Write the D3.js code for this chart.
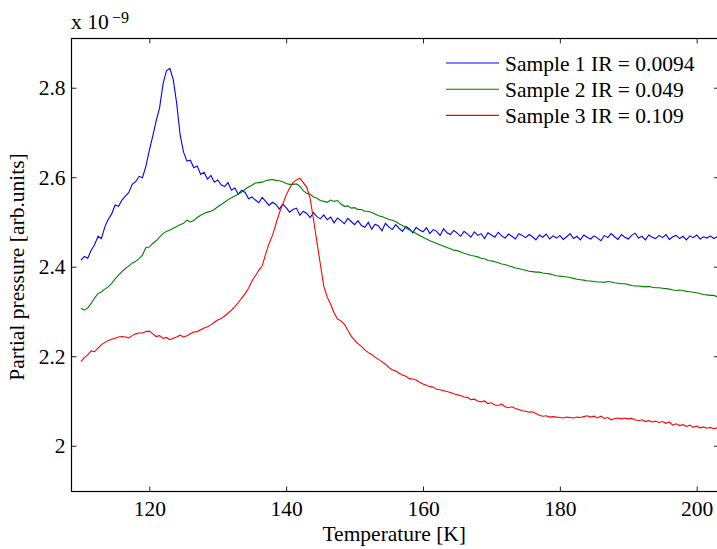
<!DOCTYPE html>
<html>
<head>
<meta charset="utf-8">
<script src="https://d3js.org/d3.v7.min.js"></script>
<style>
    body{margin:0;background:#fff;}
    svg{display:block;font-family:"Liberation Serif","Times New Roman",serif;}
</style>
</head>
<body>
<div id="canvas" class="canvas"></div>
<script>
//Data, temperature in K, pressure in units of 1e-9
var temps = [
    110,110.5,111,111.5,112,112.5,113,113.5,114,114.5,
    115,115.5,116,116.5,117,117.5,118,118.5,119,119.5,
    120,120.5,121,121.5,122,122.5,123,123.5,124,124.5,
    125,125.5,126,126.5,127,127.5,128,128.5,129,129.5,
    130,130.5,131,131.5,132,132.5,133,133.5,134,134.5,
    135,135.5,136,136.5,137,137.5,138,138.5,139,139.5,
    140,140.5,141,141.5,142,142.5,143,143.5,144,144.5,
    145,145.5,146,146.5,147,147.5,148,148.5,149,149.5,
    150,150.5,151,151.5,152,152.5,153,153.5,154,154.5,
    155,155.5,156,156.5,157,157.5,158,158.5,159,159.5,
    160,160.5,161,161.5,162,162.5,163,163.5,164,164.5,
    165,165.5,166,166.5,167,167.5,168,168.5,169,169.5,
    170,170.5,171,171.5,172,172.5,173,173.5,174,174.5,
    175,175.5,176,176.5,177,177.5,178,178.5,179,179.5,
    180,180.5,181,181.5,182,182.5,183,183.5,184,184.5,
    185,185.5,186,186.5,187,187.5,188,188.5,189,189.5,
    190,190.5,191,191.5,192,192.5,193,193.5,194,194.5,
    195,195.5,196,196.5,197,197.5,198,198.5,199,199.5,
    200,200.5,201,201.5,202,202.5,203
];

var sample1 = [
    2.415,2.423,2.419,2.437,2.449,2.468,2.463,2.489,2.506,2.518,
    2.538,2.535,2.549,2.558,2.566,2.584,2.590,2.602,2.599,2.625,
    2.660,2.692,2.726,2.755,2.808,2.838,2.843,2.818,2.765,2.695,
    2.656,2.636,2.638,2.621,2.625,2.606,2.611,2.596,2.604,2.589,
    2.594,2.583,2.579,2.588,2.571,2.576,2.562,2.571,2.566,2.552,
    2.556,2.549,2.543,2.555,2.546,2.537,2.544,2.539,2.529,2.540,
    2.532,2.522,2.528,2.531,2.515,2.524,2.519,2.510,2.521,2.512,
    2.507,2.516,2.505,2.511,2.498,2.509,2.503,2.496,2.508,2.501,
    2.494,2.503,2.492,2.488,2.499,2.484,2.495,2.491,2.480,2.497,
    2.489,2.483,2.494,2.486,2.479,2.490,2.485,2.476,2.488,2.482,
    2.478,2.487,2.474,2.483,2.479,2.470,2.485,2.476,2.472,2.481,
    2.475,2.468,2.479,2.473,2.466,2.478,2.470,2.474,2.463,2.476,
    2.471,2.466,2.477,2.469,2.464,2.473,2.468,2.462,2.474,2.470,
    2.465,2.472,2.467,2.460,2.471,2.466,2.473,2.462,2.469,2.464,
    2.470,2.461,2.467,2.474,2.463,2.468,2.460,2.471,2.466,2.462,
    2.469,2.464,2.458,2.470,2.465,2.474,2.467,2.461,2.472,2.466,
    2.462,2.470,2.475,2.464,2.468,2.460,2.471,2.466,2.463,2.470,
    2.465,2.472,2.461,2.467,2.470,2.463,2.468,2.460,2.469,2.465,
    2.471,2.462,2.467,2.464,2.469,2.463,2.467
];

var sample2 = [
    2.307,2.303,2.308,2.318,2.330,2.340,2.344,2.350,2.355,2.363,
    2.373,2.381,2.389,2.396,2.402,2.408,2.412,2.418,2.426,2.443,
    2.444,2.452,2.458,2.466,2.474,2.479,2.482,2.486,2.490,2.494,
    2.497,2.504,2.500,2.503,2.510,2.515,2.519,2.522,2.524,2.528,
    2.534,2.539,2.544,2.550,2.554,2.558,2.562,2.567,2.573,2.578,
    2.582,2.587,2.588,2.589,2.592,2.594,2.595,2.593,2.592,2.590,
    2.586,2.584,2.584,2.585,2.580,2.570,2.564,2.562,2.556,2.553,
    2.548,2.546,2.544,2.549,2.546,2.548,2.540,2.535,2.536,2.531,
    2.532,2.528,2.528,2.524,2.524,2.521,2.518,2.514,2.512,2.509,
    2.506,2.504,2.501,2.496,2.492,2.487,2.482,2.478,2.474,2.470,
    2.466,2.462,2.458,2.455,2.452,2.449,2.446,2.443,2.440,2.437,
    2.436,2.433,2.430,2.428,2.425,2.424,2.422,2.419,2.418,2.414,
    2.413,2.411,2.409,2.406,2.405,2.402,2.400,2.397,2.396,2.394,
    2.392,2.390,2.389,2.388,2.388,2.386,2.385,2.384,2.382,2.380,
    2.379,2.378,2.377,2.376,2.374,2.372,2.371,2.370,2.368,2.368,
    2.367,2.366,2.366,2.365,2.367,2.366,2.364,2.363,2.362,2.362,
    2.360,2.358,2.357,2.357,2.356,2.355,2.356,2.354,2.353,2.353,
    2.352,2.351,2.350,2.348,2.347,2.348,2.347,2.345,2.344,2.343,
    2.342,2.340,2.338,2.337,2.336,2.336,2.333
];

var sample3 = [
    2.188,2.197,2.203,2.212,2.210,2.218,2.226,2.231,2.235,2.238,
    2.240,2.243,2.244,2.243,2.241,2.246,2.250,2.252,2.252,2.255,
    2.256,2.250,2.244,2.246,2.240,2.242,2.237,2.240,2.243,2.247,
    2.243,2.246,2.250,2.254,2.255,2.259,2.263,2.266,2.270,2.276,
    2.281,2.284,2.290,2.296,2.303,2.311,2.320,2.330,2.340,2.352,
    2.368,2.380,2.392,2.402,2.428,2.452,2.470,2.495,2.520,2.540,
    2.560,2.576,2.588,2.594,2.598,2.588,2.578,2.553,2.505,2.455,
    2.405,2.356,2.332,2.316,2.297,2.283,2.279,2.272,2.258,2.245,
    2.236,2.228,2.222,2.214,2.208,2.204,2.198,2.193,2.188,2.182,
    2.175,2.170,2.167,2.162,2.158,2.155,2.150,2.149,2.147,2.142,
    2.138,2.135,2.132,2.131,2.126,2.125,2.123,2.121,2.119,2.116,
    2.114,2.112,2.109,2.108,2.103,2.104,2.100,2.098,2.100,2.094,
    2.096,2.091,2.090,2.093,2.087,2.085,2.087,2.083,2.081,2.078,
    2.077,2.075,2.076,2.072,2.068,2.066,2.067,2.064,2.065,2.064,
    2.063,2.062,2.064,2.063,2.062,2.064,2.063,2.065,2.067,2.064,
    2.066,2.062,2.066,2.061,2.063,2.058,2.061,2.062,2.060,2.062,
    2.060,2.061,2.058,2.056,2.058,2.054,2.056,2.053,2.055,2.052,
    2.054,2.050,2.053,2.046,2.049,2.045,2.047,2.043,2.046,2.041,
    2.044,2.040,2.042,2.039,2.041,2.038,2.040
];

var seriesNames = ['Sample 1 IR = 0.0094', 'Sample 2 IR = 0.049', 'Sample 3 IR = 0.109'];
var seriesColors = ['#0000ff', '#008000', '#ff0000'];
var xTicks = [120, 140, 160, 180, 200];
var yTicks = [2, 2.2, 2.4, 2.6, 2.8];

var W = 717, H = 549;
var box = {l:71.5, r:719, t:38.5, b:491.5};

var svg = d3.select('.canvas')
    .append('svg')
    .attr('width', W)
    .attr('height', H);

//Scales, the right edge of the axes box falls just outside the picture
var scaleX = d3.scaleLinear()
    .domain([108.626, 203.26])
    .range([box.l, box.r]);

var scaleY = d3.scaleLinear()
    .domain([1.8977, 2.910])
    .range([box.b, box.t]);

svg.append('clipPath').attr('id', 'plotclip')
    .append('rect')
    .attr('x', box.l).attr('y', box.t)
    .attr('width', box.r - box.l).attr('height', box.b - box.t);

//Lines
var series = [sample1, sample2, sample3];
var line = d3.line()
    .x(function(d){ return scaleX(d.t); })
    .y(function(d){ return scaleY(d.v); });

series.forEach(function(vals, i){
    var pts = temps.map(function(t, j){ return {t:t, v:vals[j]}; });
    svg.append('path')
        .datum(pts)
        .attr('clip-path', 'url(#plotclip)')
        .attr('fill', 'none')
        .attr('stroke', seriesColors[i])
        .attr('stroke-width', 1.1)
        .attr('d', line);
});

//Axes, matlab style: ticks inside on all four sides
var fontSize = 21.5;

var axisB = svg.append('g')
    .attr('transform', 'translate(0,' + box.b + ')')
    .call(d3.axisBottom(scaleX).tickValues(xTicks).tickSize(-5).tickPadding(9).tickFormat(d3.format('d')));
var axisT = svg.append('g')
    .attr('transform', 'translate(0,' + box.t + ')')
    .call(d3.axisTop(scaleX).tickValues(xTicks).tickSize(-5).tickFormat(''));
var axisL = svg.append('g')
    .attr('transform', 'translate(' + box.l + ',0)')
    .call(d3.axisLeft(scaleY).tickValues(yTicks).tickSize(-5).tickPadding(6).tickFormat(function(d){ return d === 2 ? '2' : d3.format('.1f')(d); }));
var axisR = svg.append('g')
    .attr('transform', 'translate(' + box.r + ',0)')
    .call(d3.axisRight(scaleY).tickValues(yTicks).tickSize(-5).tickFormat(''));

[axisB, axisT, axisL, axisR].forEach(function(a){
    a.select('.domain').remove();
    a.selectAll('line').attr('stroke', '#222').attr('stroke-width', 1);
    a.selectAll('text')
        .attr('fill', '#000')
        .style('font-family', '"Liberation Serif", serif')
        .style('font-size', fontSize + 'px');
});

//Box
svg.append('rect')
    .attr('x', box.l).attr('y', box.t)
    .attr('width', box.r - box.l).attr('height', box.b - box.t)
    .attr('fill', 'none')
    .attr('stroke', '#000')
    .attr('stroke-width', 1.2);

//Exponent label
svg.append('text')
    .attr('x', 71).attr('y', 29)
    .style('font-size', fontSize + 'px')
    .text('x 10');
svg.append('text')
    .attr('x', 112).attr('y', 23)
    .style('font-size', '16px')
    .text('\u22129');

//Axis titles
svg.append('text')
    .attr('x', (box.l + box.r) / 2 - 1)
    .attr('y', 541)
    .attr('text-anchor', 'middle')
    .style('font-size', fontSize + 'px')
    .text('Temperature [K]');

svg.append('text')
    .attr('transform', 'translate(24,' + ((box.t + box.b) / 2 + 2) + ') rotate(-90)')
    .attr('text-anchor', 'middle')
    .style('font-size', fontSize + 'px')
    .text('Partial pressure [arb.units]');

//Legend, no box
var legend = svg.append('g').attr('transform', 'translate(446,63)');
seriesNames.forEach(function(name, i){
    var row = legend.append('g').attr('transform', 'translate(0,' + (i * 26.2) + ')');
    row.append('line')
        .attr('x1', 0).attr('x2', 53)
        .attr('y1', 0).attr('y2', 0)
        .attr('stroke', seriesColors[i])
        .attr('stroke-width', 1.1);
    row.append('text')
        .attr('x', 59)
        .attr('y', 7.5)
        .style('font-size', fontSize + 'px')
        .text(name);
});
</script>
</body>
</html>
